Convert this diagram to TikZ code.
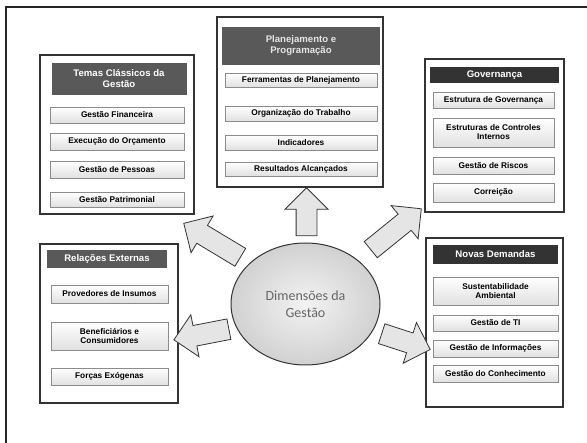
\documentclass[tikz,border=0pt]{standalone}
\usepackage{fontspec}
\setmainfont{Liberation Sans}
\newfontfamily\carlito{Carlito}
\usetikzlibrary{shapes.geometric,shapes.arrows,positioning}
\tikzset{grupo/.style={draw=black!80, line width=1.4pt, fill=white, inner sep=0pt},
  titulo/.style={fill=black!65, text=white, align=center, inner sep=0pt, font=\fontsize{9.6}{11}\selectfont\bfseries},
  item/.style={draw=black!45, top color=white, bottom color=black!12, align=center, inner sep=0pt, font=\fontsize{8.3}{9}\selectfont\bfseries},
  seta/.style={single arrow, draw=black!80, line width=0.8pt, fill=black!10, inner sep=10pt, single arrow head extend=11pt}}

\begin{document}
\begin{tikzpicture}[x=1pt, y=-1pt]
\useasboundingbox (0,0) rectangle (587,443);
\begin{scope}
\clip (0,0) rectangle (587,443);
\draw[line width=1.6pt, black!85] (6,460) -- (6,7) -- (600,7);
\end{scope}

% temas classicos
\node[grupo, minimum width=154pt, minimum height=159pt] (temas) at (117,134.5) {};
\node[titulo, minimum width=135pt, minimum height=32pt] (temast) at (119,79) {Temas Clássicos da\\Gestão};
\node[item, minimum width=134pt, minimum height=16pt] (t1) at (117,115) {Gestão Financeira};
\node[item, minimum width=134pt, minimum height=17pt] (t2) at (117,141.5) {Execução do Orçamento};
\node[item, minimum width=134pt, minimum height=17pt] (t3) at (117,169.5) {Gestão de Pessoas};
\node[item, minimum width=134pt, minimum height=15pt] (t4) at (117,199.5) {Gestão Patrimonial};

% planejamento
\node[grupo, minimum width=166pt, minimum height=170pt] (plan) at (300,102) {};
\node[titulo, minimum width=158pt, minimum height=38pt, text=black!10] (plant) at (301,46) {Planejamento e\\Programação};
\node[item, minimum width=152pt, minimum height=14pt] (p1) at (301,80) {Ferramentas de Planejamento};
\node[item, minimum width=152pt, minimum height=15pt] (p2) at (301,113.5) {Organização do Trabalho};
\node[item, minimum width=152pt, minimum height=15pt] (p3) at (301,142.5) {Indicadores};
\node[item, minimum width=152pt, minimum height=14pt] (p4) at (301,169) {Resultados Alcançados};

% governanca
\node[grupo, minimum width=139pt, minimum height=153pt] (gov) at (494.5,135.5) {};
\node[titulo, fill=black!80, minimum width=129pt, minimum height=16pt] (govt) at (494.5,75) {Governança};
\node[item, minimum width=121pt, minimum height=16pt] (g1) at (493.5,100) {Estrutura de Governança};
\node[item, minimum width=121pt, minimum height=29pt] (g2) at (493.5,132.5) {Estruturas de Controles\\Internos};
\node[item, minimum width=121pt, minimum height=17pt] (g3) at (493.5,165.5) {Gestão de Riscos};
\node[item, minimum width=121pt, minimum height=19pt] (g4) at (493.5,192.5) {Correição};

% relacoes externas
\node[grupo, minimum width=138pt, minimum height=159pt] (rel) at (109,323.5) {};
\node[titulo, minimum width=120pt, minimum height=18pt] (relt) at (107,259) {Relações Externas};
\node[item, minimum width=117pt, minimum height=18pt] (r1) at (109.5,294) {Provedores de Insumos};
\node[item, minimum width=117pt, minimum height=28pt] (r2) at (109.5,336) {Beneficiários e\\Consumidores};
\node[item, minimum width=117pt, minimum height=17pt] (r3) at (109.5,376.5) {Forças Exógenas};

% novas demandas
\node[grupo, minimum width=137pt, minimum height=169pt] (nov) at (494.5,322.5) {};
\node[titulo, fill=black!80, minimum width=125pt, minimum height=19pt] (novt) at (495.5,254.5) {Novas Demandas};
\node[item, minimum width=125pt, minimum height=28pt] (n1) at (495.5,291) {Sustentabilidade\\Ambiental};
\node[item, minimum width=125pt, minimum height=16pt] (n2) at (495.5,323) {Gestão de TI};
\node[item, minimum width=125pt, minimum height=17pt] (n3) at (495.5,348.5) {Gestão de Informações};
\node[item, minimum width=125pt, minimum height=17pt] (n4) at (495.5,373.5) {Gestão do Conhecimento};

% centro e setas
\node[ellipse, draw=black!80, line width=1pt, inner color=black!5, outer color=black!18, minimum width=149pt, minimum height=122pt, align=center, text=black!60, font=\carlito\fontsize{14}{17}\selectfont] (centro) at (305.5,304) {Dimensões da\\Gestão};
\node[seta, rotate=90, minimum height=48pt, minimum width=42pt] (s1) at (306.5,217) {};
\node[seta, rotate=149, minimum height=66pt, minimum width=42pt] (s2) at (216.5,243) {};
\node[seta, rotate=39, minimum height=65pt, minimum width=42pt] (s3) at (392,232.5) {};
\node[seta, rotate=191, minimum height=56pt, minimum width=42pt] (s4) at (206.5,333.5) {};
\node[seta, rotate=-18, minimum height=51pt, minimum width=42pt] (s5) at (401,340) {};
\end{tikzpicture}
\end{document}
